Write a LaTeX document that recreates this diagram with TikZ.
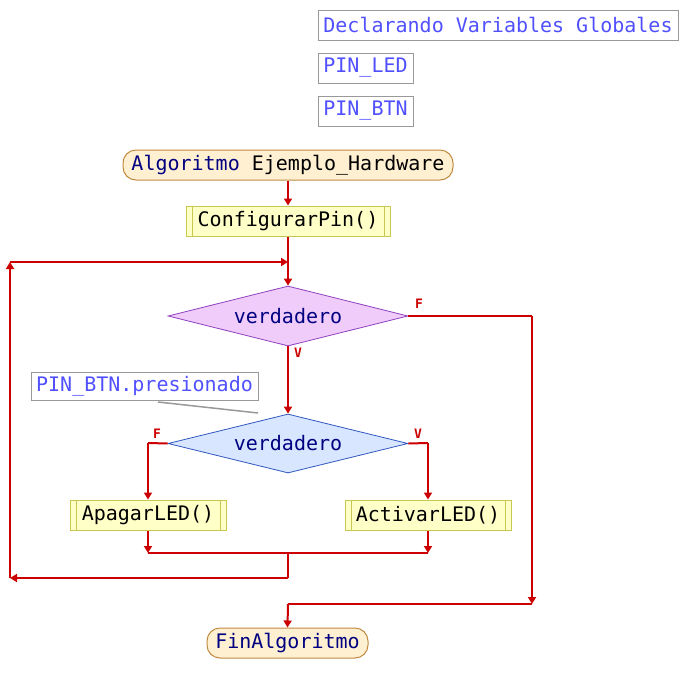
\documentclass[tikz,border=0pt]{standalone}
\usepackage{fontspec}
\setmonofont{DejaVu Sans Mono}
\usetikzlibrary{arrows.meta,shapes.geometric}
\definecolor{flow}{HTML}{CC0000}
\definecolor{navy}{HTML}{000080}
\definecolor{gvtext}{HTML}{5050FF}
\definecolor{gvborder}{HTML}{999999}
\definecolor{termfill}{HTML}{FFF0D2}
\definecolor{termdraw}{HTML}{C08A40}
\definecolor{procfill}{HTML}{FFFFC8}
\definecolor{procdraw}{HTML}{C8C850}
\definecolor{d1fill}{HTML}{F0CCFA}
\definecolor{d1draw}{HTML}{9040C0}
\definecolor{d2fill}{HTML}{D8E6FF}
\definecolor{d2draw}{HTML}{3058C0}
\tikzset{
  gvar/.style={draw=gvborder, line width=1pt, text=gvtext, inner sep=0pt, minimum height=30},
  term/.style={draw=termdraw, fill=termfill, line width=1pt, rounded corners=13, inner sep=0pt, minimum height=30, text=navy},
  proc/.style={draw=procdraw, fill=procfill, line width=1pt, inner sep=0pt, minimum height=30,
    path picture={\draw[procdraw, line width=1pt]
      ([xshift=6]path picture bounding box.north west) -- ([xshift=6]path picture bounding box.south west)
      ([xshift=-6]path picture bounding box.north east) -- ([xshift=-6]path picture bounding box.south east);}},
  dec/.style={diamond, aspect=4, inner sep=0pt, minimum width=240, minimum height=60, line width=0.8pt, text=navy},
  flowline/.style={draw=flow, line width=2pt},
  arr/.style={flowline, -{Triangle[length=7pt,width=8pt]}},
  lbl/.style={text=flow, font=\ttfamily\bfseries\fontsize{13}{14}\selectfont, inner sep=0pt},
  cmt/.style={draw=gvborder, line width=1pt, text=gvtext, inner sep=0pt, minimum height=28}
}
\begin{document}
\begin{tikzpicture}[x=1pt,y=-1pt, font=\ttfamily\fontsize{20}{22}\selectfont]
\useasboundingbox (0,0) rectangle (688,694);

% global variables
\node[gvar, minimum width=360] (g1) at (498,25) {Declarando Variables Globales};
\node[gvar, minimum width=95] (g2) at (365.5,68) {PIN\_LED};
\node[gvar, minimum width=95] (g3) at (365.5,111) {PIN\_BTN};

% main nodes
\node[term, minimum width=330] (start) at (288,165) {Algoritmo \textcolor{black}{Ejemplo\_Hardware}};
\node[proc, minimum width=204] (conf) at (288,221) {\textcolor{black}{ConfigurarPin}()};
\node[dec, draw=d1draw, fill=d1fill] (d1) at (288,316) {verdadero};
\node[cmt, minimum width=227] (cm) at (144.5,386) {PIN\_BTN.presionado};
\node[dec, draw=d2draw, fill=d2fill, minimum height=59] (d2) at (288,443.5) {verdadero};
\node[proc, minimum width=156] (off) at (148,515) {\textcolor{black}{ApagarLED}()};
\node[proc, minimum width=166] (on) at (428,515) {\textcolor{black}{ActivarLED}()};
\node[term, minimum width=161] (fin) at (287.5,643) {FinAlgoritmo};

% labels
\node[lbl] (lf1) at (419,304) {F};
\node[lbl] (lv1) at (298,353) {V};
\node[lbl] (lf2) at (157,434) {F};
\node[lbl] (lv2) at (418,434) {V};

% coordinates
\coordinate (loopj) at (288,262);
\coordinate (loopl) at (10,262);
\coordinate (loopb) at (10,578);
\coordinate (joinm) at (288,578);
\coordinate (joinl) at (148,553);
\coordinate (joinr) at (428,553);
\coordinate (joinc) at (288,553);
\coordinate (fr) at (532,316);
\coordinate (frb) at (532,604);
\coordinate (fm) at (288,604);
\coordinate (offc) at (148,443);
\coordinate (onc) at (428,443);
\coordinate (cmtend) at (258,413);
\coordinate (cmtstart) at (158,402);

% connectors
\draw[arr] (start.south) -- (conf.north);
\draw[flowline] (conf.south) -- (loopj);
\draw[arr] (loopj) -- (d1.north);
\draw[arr] (d1.south) -- (d2.north);
\draw[flowline] (d1.east) -- (fr);
\draw[arr] (fr) -- (frb);
\draw[flowline] (frb) -- (fm);
\draw[arr] (fm) -- (fin.north);
\draw[flowline] (d2.west) -- (offc);
\draw[arr] (offc) -- (off.north);
\draw[flowline] (d2.east) -- (onc);
\draw[arr] (onc) -- (on.north);
\draw[arr] (off.south) -- (joinl);
\draw[arr] (on.south) -- (joinr);
\draw[flowline] (joinl) -- (joinr);
\draw[flowline] (joinc) -- (joinm);
\draw[arr] (joinm) -- (loopb);
\draw[arr] (loopb) -- (loopl);
\draw[arr] (loopl) -- (loopj);
\draw[gvborder, line width=1.5pt] (cmtstart) -- (cmtend);
\end{tikzpicture}
\end{document}
